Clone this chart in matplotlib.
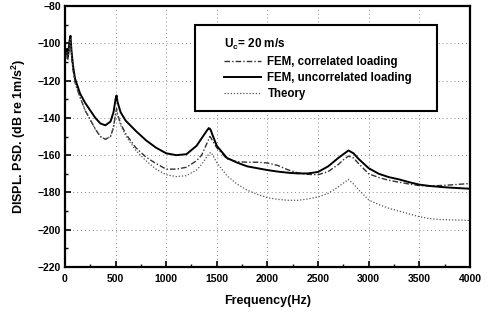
import matplotlib
matplotlib.use("Agg")
import matplotlib.pyplot as plt
from matplotlib.patches import Rectangle
from matplotlib.ticker import MultipleLocator

freq = [0, 20, 30, 45, 55, 65, 80, 100, 150, 200, 250, 300, 350, 400, 450, 480, 500, 510,
        520, 550, 600, 700, 800, 900, 1000, 1100, 1200, 1300, 1350, 1400, 1420, 1430,
        1440, 1460, 1500, 1600, 1700, 1800, 1900, 2000, 2100, 2200, 2300, 2400, 2500,
        2600, 2700, 2750, 2800, 2850, 2900, 3000, 3100, 3200, 3300, 3400, 3500, 3600,
        3700, 3800, 3900, 4000]

uncorrelated = [-108, -103, -107, -99, -96, -104, -112, -119, -127, -132, -136, -140, -143,
                -144, -142, -137, -130, -128, -131.5, -137, -141.5, -147, -152, -156, -159,
                -160, -159.5, -155, -151, -147, -145.5, -145.8, -146.5, -149.5, -155, -161.5,
                -164, -166, -167, -168, -168.8, -169.4, -169.8, -169.8, -169, -166, -161.5,
                -159.5, -157.5, -159, -162, -167, -170, -171.8, -173, -174.5, -175.8,
                -176.5, -177, -177.4, -177.7, -178]

correlated = [-110, -105, -109, -100, -98, -106, -114, -121, -129, -136, -141, -146, -150,
              -151.5, -150, -145, -138, -135, -138, -143, -148.5, -156, -161, -164.5, -167.5,
              -167.5, -166.5, -163, -160, -154, -151.5, -150, -150.5, -152.5, -156, -162,
              -163.5, -163.8, -163.8, -164.2, -165.5, -167.8, -169.5, -170.3, -170.5,
              -168.8, -165, -162.5, -160.5, -161.5, -164.5, -170, -172, -173.5, -174.5,
              -175.5, -176.3, -176.5, -176.3, -176, -175.6, -175.2]

theory = [-110, -105, -109, -100, -98, -106, -114, -121, -129, -136, -141, -146, -150,
          -151.5, -150, -145, -138, -135.5, -138.5, -144, -149.5, -157.5, -163, -167.5, -170.5,
          -171.5, -171, -168, -165, -161, -159.5, -159, -158.5, -160, -164, -171, -175.5,
          -178.8, -181, -182.8, -183.7, -184.2, -184.2, -183.5, -182.4, -180.5, -177,
          -175, -173, -175.5, -178.5, -184, -186.5, -188.5, -190, -191.5, -193, -194,
          -194.5, -194.7, -194.8, -195]

labels = ["FEM, correlated loading", "FEM, uncorrelated loading", "Theory"]
legend_title = r"$\mathbf{U_c}$= 20 m/s"
xlabel = "Frequency(Hz)"
ylabel = r"DISPL. PSD. (dB re 1m/s$^\mathbf{2}$)"

plt.rcParams['font.family'] = ['Liberation Sans', 'DejaVu Sans']
plt.rcParams['font.weight'] = 'bold'
plt.rcParams['mathtext.fontset'] = 'custom'
plt.rcParams['mathtext.bf'] = 'Liberation Sans:bold'
plt.rcParams['mathtext.rm'] = 'Liberation Sans:bold'

fig = plt.figure(figsize=(4.88, 3.12), dpi=100)
ax = fig.add_axes([0.133, 0.144, 0.830, 0.837])

l1, = ax.plot(freq, correlated, color='#333333', lw=1.0, ls=(0, (4, 1.5, 1, 1.5)))
l2, = ax.plot(freq, uncorrelated, color='black', lw=1.4, ls='-')
l3, = ax.plot(freq, theory, color='#555555', lw=0.9, ls=(0, (1, 1.5)))

ax.set_xlim(0, 4000)
ax.set_ylim(-220, -80)
ax.xaxis.set_major_locator(MultipleLocator(500))
ax.xaxis.set_minor_locator(MultipleLocator(250))
ax.yaxis.set_major_locator(MultipleLocator(20))
ax.yaxis.set_minor_locator(MultipleLocator(10))
ax.tick_params(which='major', direction='in', length=4, width=1.2, labelsize=7.5, pad=5)
ax.tick_params(axis='y', which='major', pad=3)
ax.tick_params(which='minor', direction='in', length=2.5, width=1.0)
for lab in ax.get_xticklabels() + ax.get_yticklabels():
    lab.set_fontweight('bold')
ax.grid(True, which='major', color='#888888', ls=(0, (1, 3)), lw=0.7)
for s in ax.spines.values():
    s.set_linewidth(1.6)

ax.set_xlabel(xlabel, fontsize=9, fontweight='bold', labelpad=8)
ax.set_ylabel(ylabel, fontsize=9, fontweight='bold', labelpad=7)

rect = Rectangle((0.321, 0.598), 0.598, 0.329, transform=ax.transAxes,
                 facecolor='white', edgecolor='black', lw=1.5, zorder=5)
ax.add_patch(rect)
leg = ax.legend([l1, l2, l3], labels, loc='upper left', bbox_to_anchor=(0.372, 0.913),
                frameon=False, fontsize=8.3, handlelength=3.2, handletextpad=0.6,
                labelspacing=0.36, borderpad=0.2, title=legend_title,
                title_fontproperties={'weight': 'bold', 'size': 8.5}, alignment='left')
leg.set_zorder(6)
for t in leg.get_texts():
    t.set_fontweight('bold')

fig.savefig('out.png', dpi=100, facecolor='white')
